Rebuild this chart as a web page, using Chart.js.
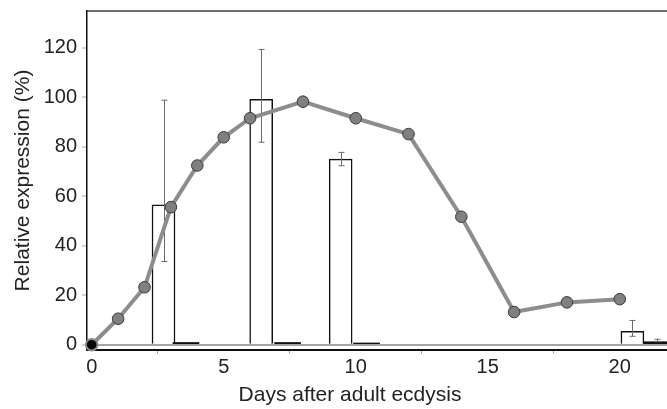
<!DOCTYPE html>
<html>
<head>
<meta charset="utf-8">
<script src="https://cdn.jsdelivr.net/npm/chart.js@4"></script>
<style>
  html, body { margin: 0; padding: 0; background: #ffffff; overflow: hidden; }
  #wrap { width: 667px; height: 409px; }
  canvas { display: block; }
</style>
</head>
<body>
<div id="wrap"><canvas id="c" width="667" height="409"></canvas></div>
<script>
// ---- data ----
const lineDays   = [0, 1, 2, 3, 4, 5, 6, 8, 10, 12, 14, 16, 18, 20];
const lineValues = [0, 10.5, 23.2, 55.6, 72.4, 83.8, 91.5, 98.2, 91.5, 85.1, 51.7, 13.2, 17.1, 18.4];

const openBarDays   = [2.72, 6.42, 9.43, 20.48];
const openBarValues = [56.5, 99.1, 75.0, 5.4];
const openBarLow    = [33.6, 81.8, 72.3, 3.4];
const openBarHigh   = [98.8, 119.3, 77.7, 9.8];

const blackBarDays   = [3.57, 7.42, 10.41, 21.4];
const blackBarValues = [0.9, 0.9, 0.7, 1.2];
const blackBarLow    = [0.9, 0.9, 0.7, 1.2];
const blackBarHigh   = [0.9, 0.9, 0.7, 2.2];

const xTickValues = [0, 5, 10, 15, 20];
const yTickValues = [0, 20, 40, 60, 80, 100, 120];

const xAxisTitle = 'Days after adult ecdysis';
const yAxisTitle = 'Relative expression (%)';

// ---- build library structures ----
const toXY = (xs, ys) => xs.map((x, i) => ({ x: x, y: ys[i] }));

const FONT = "'Liberation Sans', Arial, sans-serif";

const noPad = s => { s.paddingLeft = 0; s.paddingRight = 0; s.paddingTop = 0; s.paddingBottom = 0; };

const errorBarPlugin = {
  id: 'errorBars',
  afterDatasetDraw(chart, args) {
    const sets = {
      0: { xs: openBarDays, lo: openBarLow, hi: openBarHigh },
      1: { xs: blackBarDays, lo: blackBarLow, hi: blackBarHigh }
    };
    const s = sets[args.index];
    if (!s) return;
    const xs = chart.scales.x, ys = chart.scales.y, ctx = chart.ctx;
    ctx.save();
    ctx.beginPath();
    ctx.rect(chart.chartArea.left, chart.chartArea.top,
             chart.chartArea.right - chart.chartArea.left,
             chart.chartArea.bottom - chart.chartArea.top);
    ctx.clip();
    ctx.strokeStyle = '#6a6a6a';
    ctx.lineWidth = 1;
    s.xs.forEach((d, i) => {
      if (s.lo[i] === s.hi[i]) return;
      const px = Math.round(xs.getPixelForValue(d)) + 0.5;
      const y1 = ys.getPixelForValue(s.lo[i]);
      const y2 = ys.getPixelForValue(s.hi[i]);
      ctx.beginPath();
      ctx.moveTo(px, y1); ctx.lineTo(px, y2);
      ctx.moveTo(px - 3, y1); ctx.lineTo(px + 3, y1);
      ctx.moveTo(px - 3, y2); ctx.lineTo(px + 3, y2);
      ctx.stroke();
    });
    ctx.restore();
  }
};

const framePlugin = {
  id: 'frame',
  afterDraw(chart) {
    const ctx = chart.ctx, a = chart.chartArea;
    ctx.save();
    ctx.strokeStyle = '#3c3c3c';
    ctx.lineWidth = 1.5;
    ctx.beginPath();
    ctx.moveTo(a.left, a.top);
    ctx.lineTo(a.right, a.top);
    ctx.stroke();
    // x axis title
    ctx.fillStyle = '#222';
    ctx.font = '21px ' + FONT;
    ctx.textAlign = 'center';
    ctx.textBaseline = 'alphabetic';
    ctx.fillText(xAxisTitle, a.left + 263, a.bottom + 51);
    ctx.restore();
  }
};

new Chart(document.getElementById('c'), {
  type: 'bar',
  data: {
    datasets: [
      {
        type: 'bar',
        label: 'open',
        data: toXY(openBarDays, openBarValues),
        backgroundColor: '#ffffff',
        borderColor: '#111111',
        borderWidth: 1.5,
        barThickness: 23,
        grouped: false,
        order: 2
      },
      {
        type: 'bar',
        label: 'black',
        data: toXY(blackBarDays, blackBarValues),
        backgroundColor: '#111111',
        borderWidth: 0,
        barThickness: 26,
        grouped: false,
        order: 1
      },
      {
        type: 'line',
        label: 'line',
        data: toXY(lineDays, lineValues),
        borderColor: '#8d8d8d',
        borderWidth: 4,
        pointRadius: 5.8,
        pointBackgroundColor: ctx => (ctx.parsed && ctx.parsed.x === 0) ? '#050505' : '#808080',
        pointBorderColor: ctx => (ctx.parsed && ctx.parsed.x === 0) ? '#8a8a8a' : '#3a3a3a',
        pointBorderWidth: ctx => (ctx.parsed && ctx.parsed.x === 0) ? 2 : 1,
        tension: 0,
        clip: false,
        order: 0
      }
    ]
  },
  options: {
    responsive: false,
    animation: false,
    devicePixelRatio: 1,
    layout: { autoPadding: false, padding: { top: 11, right: 0, bottom: 0, left: 0 } },
    plugins: { legend: { display: false }, tooltip: { enabled: false } },
    scales: {
      x: {
        type: 'linear',
        offset: false,
        min: -0.178,
        max: 21.79,
        afterFit: s => { s.height = 59; noPad(s); },
        afterBuildTicks: s => { s.ticks = xTickValues.map(v => ({ value: v })); },
        ticks: { font: { family: FONT, size: 20 }, color: '#222', padding: 1, maxRotation: 0 },
        grid: { drawOnChartArea: false, tickLength: 4, tickColor: '#a8a8a8', tickWidth: 1 },
        border: { color: '#111', width: 2 },
        title: { display: false }
      },
      y: {
        type: 'linear',
        min: -2.14,
        max: 134.83,
        afterFit: s => { s.width = 87; noPad(s); },
        afterBuildTicks: s => { s.ticks = yTickValues.map(v => ({ value: v })); },
        ticks: { font: { family: FONT, size: 20 }, color: '#222', padding: 5 },
        grid: {
          color: c => (c.tick && c.tick.value === 0) ? '#a6a6a6' : 'rgba(0,0,0,0)',
          lineWidth: 2,
          tickLength: 5,
          tickColor: '#a8a8a8',
          tickWidth: 1
        },
        border: { color: '#111', width: 1.5 },
        title: {
          display: true,
          text: yAxisTitle,
          font: { family: FONT, size: 21 },
          color: '#222',
          padding: { top: 11, bottom: 0 }
        }
      }
    }
  },
  plugins: [errorBarPlugin, framePlugin]
});
</script>
</body>
</html>
